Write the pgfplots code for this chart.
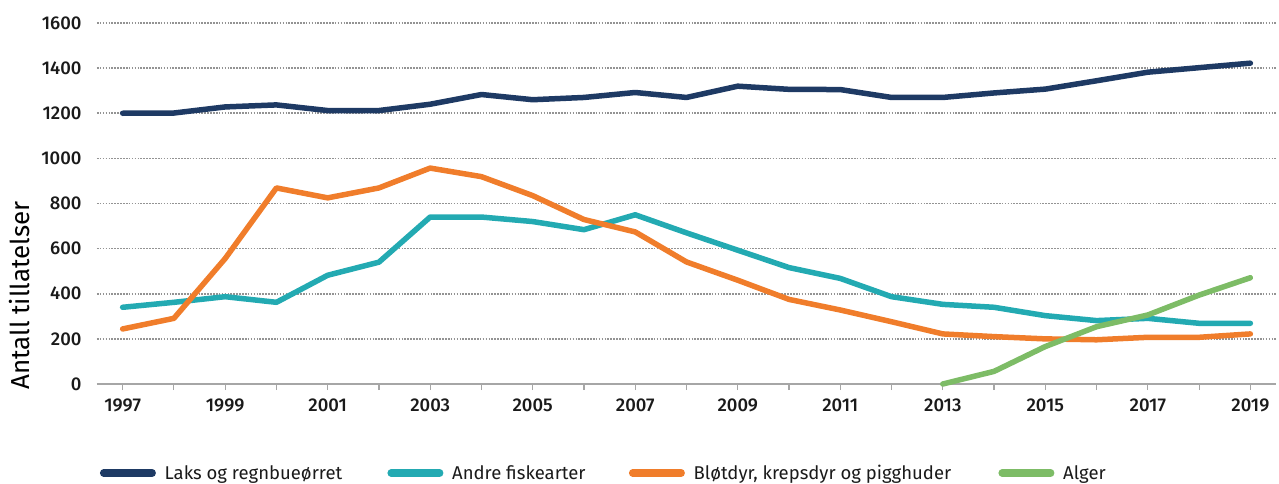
\documentclass[border=0pt]{standalone}
\usepackage{fontspec}
\setmainfont{Fira Sans}
\newfontfamily\medfont{Fira Sans Medium}
\usepackage{pgfplots}
\pgfplotsset{compat=1.18}
\definecolor{cnavy}{HTML}{1E3A64}
\definecolor{cteal}{HTML}{23AAB2}
\definecolor{corange}{HTML}{F07D2B}
\definecolor{cgreen}{HTML}{7DBC66}
\definecolor{ctext}{HTML}{1A1A1A}
\begin{document}
\begin{tikzpicture}
\begin{axis}[
  scale only axis, width=1179pt, height=361pt,
  xmin=1996.5, xmax=2019.5, ymin=0, ymax=1600,
  axis lines*=left,
  y axis line style={draw=none},
  x axis line style={draw=gray!70, line width=1.8pt},
  ytick={0,200,...,1600},
  xtick={1997,1999,...,2019},
  minor xtick={1998,2000,...,2018},
  ytick style={draw=none},
  xtick style={draw=gray!70, line width=1.2pt},
  minor tick style={draw=gray!70, line width=1.2pt},
  tick align=outside,
  major tick length=6pt, minor tick length=6pt,
  ymajorgrids,
  major grid style={draw=gray!85, line width=1.6pt, dash pattern=on 1.6pt off 1.3pt},
  /pgf/number format/1000 sep={},
  /pgf/number format/assume math mode=true,
  ticklabel style={font=\fontsize{18.5}{22}\medfont, text=ctext},
  yticklabel style={xshift=-6pt},
  xticklabel style={yshift=-5pt},
  ylabel={Antall tillatelser},
  ylabel style={font=\fontsize{26}{30}\selectfont, text=black, at={(axis description cs:-0.066,0.245)}, anchor=center},
  legend columns=4,
  legend style={at={(axis description cs:0.0023,-0.2465)}, anchor=west, draw=none, fill=none, inner sep=0pt,
    nodes={inner sep=0pt},
    font=\fontsize{18.5}{22}\selectfont, text=ctext,
    /tikz/every even column/.append style={column sep=0pt},
    /tikz/every odd column/.append style={column sep=8.75pt}},
  legend image code/.code={\draw[#1, line cap=round, line width=7.5pt] (0pt,0pt) -- (48.5pt,0pt);},
  every axis plot/.append style={line width=5.5pt, line join=round, line cap=round},
  clip=false,
]
\addplot[cnavy] coordinates {
(1997,1200)(1998,1201)(1999,1228)(2000,1237)(2001,1212)(2002,1212)(2003,1240)(2004,1283)
(2005,1260)(2006,1270)(2007,1292)(2008,1270)(2009,1320)(2010,1306)(2011,1305)(2012,1270)
(2013,1270)(2014,1290)(2015,1307)(2016,1344)(2017,1382)(2018,1402)(2019,1422)};
\addlegendentry{\makebox[222.75pt][l]{Laks og regnbueørret}}
\addplot[cteal] coordinates {
(1997,340)(1998,362)(1999,387)(2000,362)(2001,482)(2002,540)(2003,740)(2004,740)
(2005,720)(2006,684)(2007,750)(2008,670)(2009,593)(2010,516)(2011,468)(2012,387)
(2013,353)(2014,340)(2015,303)(2016,281)(2017,291)(2018,269)(2019,269)};
\addlegendentry{\makebox[176.75pt][l]{Andre fiskearter}}
\addplot[corange] coordinates {
(1997,244)(1998,291)(1999,556)(2000,869)(2001,825)(2002,869)(2003,957)(2004,919)
(2005,835)(2006,729)(2007,674)(2008,541)(2009,460)(2010,375)(2011,328)(2012,276)
(2013,222)(2014,210)(2015,200)(2016,196)(2017,207)(2018,207)(2019,222)};
\addlegendentry{\makebox[304.75pt][l]{Bløtdyr, krepsdyr og pigghuder}}
\addplot[cgreen] coordinates {
(2013,0)(2014,56)(2015,166)(2016,254)(2017,306)(2018,394)(2019,471)};
\addlegendentry{Alger}
\end{axis}
\pgfresetboundingbox
\path (current axis.south west) ++(-97pt,-99pt) rectangle ++(1279pt,483pt);
\end{tikzpicture}
\end{document}
